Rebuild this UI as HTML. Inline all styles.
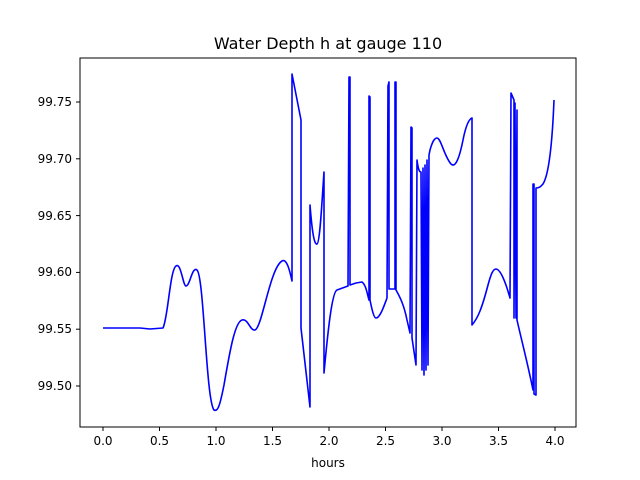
<!DOCTYPE html><html><head><style>body{margin:0;background:#fff}svg{display:block}text{font-family:"DejaVu Sans","Liberation Sans",sans-serif;fill:#000}</style></head><body>
<svg width="640" height="480" viewBox="0 0 640 480">
<rect x="80" y="58" width="496" height="369" fill="#fff" stroke="#000" stroke-width="1"/>
<text x="328" y="49" font-size="16" text-anchor="middle">Water Depth h at gauge 110</text>
<g stroke="#000" stroke-width="1">
<line x1="103" y1="427" x2="103" y2="431"/><line x1="159.5" y1="427" x2="159.5" y2="431"/><line x1="216" y1="427" x2="216" y2="431"/><line x1="272.5" y1="427" x2="272.5" y2="431"/><line x1="329" y1="427" x2="329" y2="431"/><line x1="385.5" y1="427" x2="385.5" y2="431"/><line x1="442" y1="427" x2="442" y2="431"/><line x1="498.5" y1="427" x2="498.5" y2="431"/><line x1="555" y1="427" x2="555" y2="431"/>
<line x1="76" y1="102" x2="80" y2="102"/><line x1="76" y1="158.8" x2="80" y2="158.8"/><line x1="76" y1="215.6" x2="80" y2="215.6"/><line x1="76" y1="272.4" x2="80" y2="272.4"/><line x1="76" y1="329.2" x2="80" y2="329.2"/><line x1="76" y1="386" x2="80" y2="386"/>
</g>
<g font-size="12" text-anchor="middle">
<text x="103" y="445">0.0</text><text x="159.5" y="445">0.5</text><text x="216" y="445">1.0</text><text x="272.5" y="445">1.5</text><text x="329" y="445">2.0</text><text x="385.5" y="445">2.5</text><text x="442" y="445">3.0</text><text x="498.5" y="445">3.5</text><text x="555" y="445">4.0</text>
<text x="328" y="467">hours</text>
</g>
<g font-size="12" text-anchor="end">
<text x="72" y="106">99.75</text><text x="72" y="163">99.70</text><text x="72" y="220">99.65</text><text x="72" y="276">99.60</text><text x="72" y="333">99.55</text><text x="72" y="390">99.50</text>
</g>
<path fill="none" stroke="#00f" stroke-width="1.6" stroke-linejoin="round" d="M103,328 L140,328 L150,329 L163,328 C168,318 170,270 176,266 C181,262 183,286 186,286 C190,286 192,266 197,270 C204,276 206,400 214,410 C218,412 220,405 224,385 C230,350 235,322 242,320 C248,318 250,331 255,330 C262,328 270,268 282,261 C287,258 290,272 292,281 L292,74 L301,120 L301,328 L310,407 L310,205 C312,230 314,245 317,244 C320,243 322,200 324,172 L324,373 C328,330 332,292 337,290 L348,286 L349,77 L350,77 L350,285 L356,283 L362,282 C366,285 367,293 369,300 L369,96 L370,97 L370,300 C372,310 374,318 376,318 C380,318 384,306 387,298 L388,86 L389,82 L389,289 L395,289 L395,82 L396,82 L396,290 C400,297 404,305 407,320 L410,333 L411,127 L412,128 L412,338 L416,365 L417,160 C418,168 419,172 421,172 L422,370 L423,168 L424,375 L425,165 L426,370 L427,160 L428,365 L429,155 L430,150 C432,143 434,138 437,138 C441,138 444,156 451,164 C455,168 459,160 463,140 C466,125 469,119 472,118 L472,325 C478,318 482,308 488,285 C491,274 493,269 496,269 C500,269 505,280 510,298 L511,93 L514,100 L514,318 L515,103 L516,318 L517,110 L517,320 C522,342 528,365 533,390 L533,184 L534,184 L534,394 L536,395 L536,188 C540,188 541,186 543,184 C548,176 552,150 554,100"/>
</svg></body></html>
